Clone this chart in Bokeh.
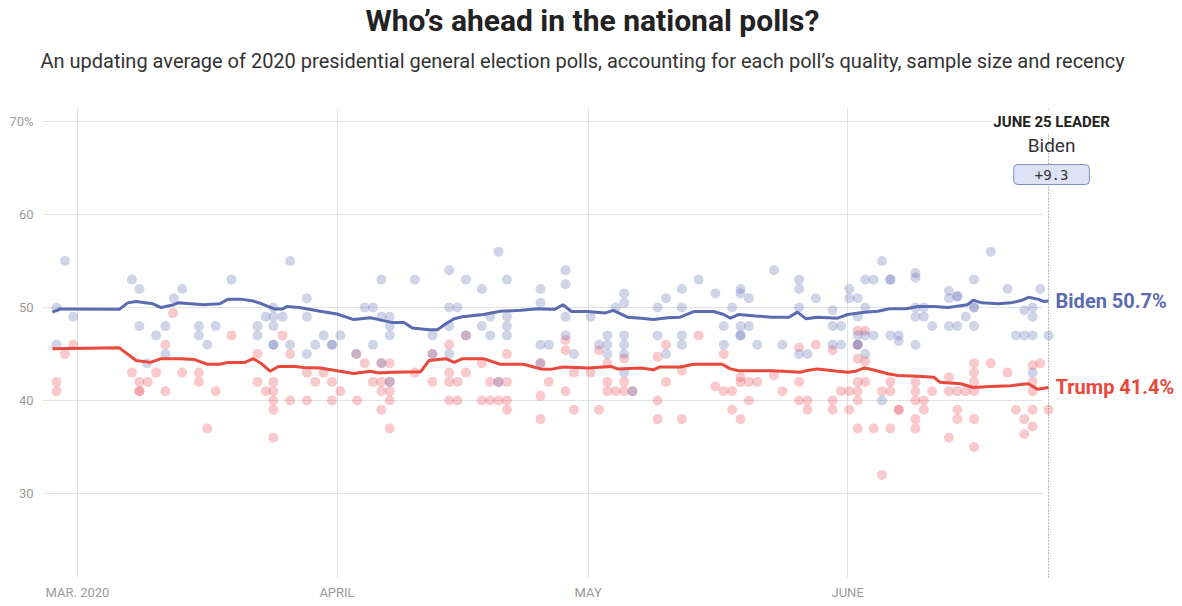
from bokeh.plotting import figure
from bokeh.models import FixedTicker, Span, Label, Title, Range1d
from bokeh.embed import file_html
from bokeh.resources import INLINE

# ---------------- data (x = days since 2020-03-01) ----------------
month_ticks = [0, 31, 61, 92]
month_labels = ["MAR. 2020", "APRIL", "MAY", "JUNE"]
pct_ticks = [30, 40, 50, 60, 70]
pct_labels = ["30", "40", "50", "60", "70%"]

biden_avg_day = [-3, -2, 5, 6, 7, 9, 10, 11.5, 12, 15, 17, 18, 19.5, 21, 22, 23.5, 24.5, 25, 26.5,
                 29, 31, 33, 35, 36, 37.5, 39, 40, 42, 43, 44, 45, 46, 48.5, 50.5, 53, 55, 56.5,
                 57, 58, 59, 61, 63, 64, 65.7, 67.3, 68.8, 70.5, 72, 73.6, 76, 77.2, 78, 79, 81,
                 83, 85, 86, 87, 88.4, 90.8, 92, 94, 95.6, 97, 99, 100.4, 102.3, 104, 105.5, 106.3,
                 107, 108, 110, 111.5, 112.7, 113.6, 114.7, 115.4, 116]
biden_avg = [49.5, 49.85, 49.8, 50.5, 50.65, 50.4, 50.0, 50.3, 50.5, 50.3, 50.4, 50.9, 50.9, 50.7,
             50.4, 49.85, 49.85, 50.1, 50.0, 49.6, 49.3, 48.7, 48.9, 48.7, 48.4, 48.4, 47.8, 47.6,
             47.6, 48.25, 48.8, 49.0, 49.25, 49.6, 49.7, 49.86, 49.8, 49.8, 50.3, 49.57, 49.57,
             49.4, 49.7, 48.96, 48.85, 48.7, 48.9, 48.96, 49.57, 49.57, 49.25, 48.85, 49.25, 49.1,
             48.96, 48.96, 49.5, 48.8, 48.96, 48.85, 49.25, 49.5, 49.6, 49.86, 49.86, 50.1, 50.1,
             50.0, 50.2, 50.3, 50.8, 50.5, 50.4, 50.5, 50.75, 51.1, 50.9, 50.65, 50.7]

trump_avg_day = [-3, 5, 7, 8.7, 10, 12.3, 14, 15.5, 17, 18, 20, 21, 22, 23, 24, 26, 27, 29, 31, 33,
                 35, 36, 37.5, 41, 42, 44, 45, 46, 48.5, 50.5, 53.3, 55.3, 56.5, 58, 61, 63.8, 64.5,
                 67.3, 68.8, 69.5, 72, 73.6, 77, 78, 79, 83, 86.4, 87, 88.4, 90.8, 92, 93, 94, 95,
                 96.8, 98, 100.4, 102.3, 103, 105.5, 107, 109, 111.5, 113.6, 114.7, 116]
trump_avg = [45.56, 45.66, 44.3, 44.1, 44.5, 44.5, 44.4, 43.9, 43.9, 44.1, 44.1, 44.5, 43.95, 43.15,
             43.65, 43.65, 43.55, 43.5, 43.2, 42.9, 43.15, 42.95, 43.05, 43.1, 44.3, 44.5, 44.1,
             44.5, 44.5, 43.9, 43.9, 43.4, 43.35, 43.6, 43.5, 43.65, 43.4, 43.5, 43.3, 43.6, 43.6,
             43.9, 43.9, 43.4, 43.2, 43.2, 43.05, 43.2, 43.4, 43.15, 43.05, 43.15, 43.5, 43.3,
             42.87, 42.7, 42.6, 42.5, 41.97, 41.8, 41.4, 41.5, 41.6, 41.8, 41.2, 41.4]

biden_poll_day = [-1.5, -2.5, -0.5, -2.5, 6.5, 7.4, 7.4, 9.4, 10.5, 10.5, 11.5, 12.5, 14.5, 14.5, 15.5,
                  16.5, 18.4, 21.5, 21.5, 22.5, 23.4, 23.4, 23.4, 23.4, 23.4, 24.5, 25.4, 25.4, 8.3,
                  27.4, 27.4, 27.4, 28.4, 29.4, 30.4, 30.4, 31.4, 33.3, 34.3, 35.3, 35.3, 36.3, 36.3,
                  36.3, 37.3, 37.3, 37.3, 37.3, 40.3, 42.4, 42.4, 44.4, 44.4, 44.4, 44.4, 45.4, 46.4,
                  46.4, 48.3, 48.3, 49.3, 49.3, 50.3, 50.3, 51.3, 51.3, 51.3, 51.3, 55.3, 55.3, 55.3,
                  56.3, 55.3,
                  58.3, 58.3, 58.3, 58.3, 59.3, 61.3, 62.3, 63.3, 63.3, 63.3, 64.3, 65.3, 65.3, 65.3,
                  65.3, 65.3, 65.3, 66.3, 69.3, 70.3, 69.3, 70.3, 72.2, 72.2, 72.2, 72.2, 74.2, 76.2,
                  77.2, 77.2, 78.2, 79.2, 79.2, 79.2, 79.2, 79.2, 80.2, 80.2, 81.2, 83.2, 84.2, 86.2,
                  86.2, 86.2, 86.2,
                  87.2, 88.2, 90.2, 90.2, 91.2, 90.2, 91.2, 92.2, 92.2, 93.2, 93.2, 93.2, 93.2, 93.2,
                  94.1, 94.1, 94.1, 94.1, 95.1, 95.1, 96.1, 96.1, 97.1, 97.1, 97.1, 98.1, 98.1, 100.1,
                  100.1, 100.1, 100.1, 101.1, 101.1, 100.1, 102.1, 104.1, 104.1, 104.1, 105.1, 105.1,
                  105.1, 106.1, 107.1, 107.1, 107.1, 107.1, 109.1, 111.1, 112.1, 113.1, 114.1, 113.1,
                  114.1, 114.1, 114.1, 115, 116]
biden_poll = [55, 50, 49, 46, 53, 52, 48, 47, 48, 45, 51, 52, 48, 47, 46,
              48, 53, 48, 47, 49, 50, 49, 48, 46, 46, 49, 55, 46, 44,
              51, 49, 45, 46, 47, 46, 46, 47, 45, 50, 50, 46, 53, 49,
              44, 49, 48, 47, 42, 53, 47, 45, 54, 50, 48, 45, 50, 53,
              47, 52, 48, 49, 47, 56, 42, 53, 49, 48, 47, 52, 50.5, 46,
              46, 44,
              54, 52.5, 49, 47, 45, 49, 46, 47, 46, 45, 50, 51.5, 50.5, 47,
              46, 45, 43, 41, 50, 51, 47, 45, 52, 50, 47, 46, 53, 51.5,
              48, 46, 50, 52, 51.5, 48, 47, 47, 51, 48, 46, 54, 46, 53,
              52, 50, 45,
              45, 51, 49.7, 48, 48, 46, 46, 52, 51, 51, 49, 47, 46, 46,
              53, 50, 47, 45, 53, 47, 55, 40, 53, 53, 47, 47, 46.4, 53.7,
              53.2, 50, 49, 50, 49, 46, 48, 51.8, 51, 48, 51.2, 51.2,
              48, 49, 53, 50, 50, 48, 56, 52, 47, 47, 47, 49.7,
              50, 49, 43, 52, 47]

trump_poll_day = [-0.5, -1.5, -2.5, -2.5, 11.4, 18.4, 10.5, 6.5, 7.4, 7.4, 7.4, 8.4, 9.4, 10.5, 12.5,
                  14.5, 14.5, 15.5, 16.5, 21.5, 21.5, 22.5, 23.4, 23.4, 23.4, 23.4, 23.4, 24.5, 25.4,
                  25.4,
                  27.4, 27.4, 28.4, 29.4, 30.4, 30.4, 31.4, 33.3, 33.4, 34.3, 35.3, 36.3, 36.3, 36.3,
                  36.3, 37.3, 37.3, 37.3, 37.3, 37.3, 40.3, 42.4, 42.4, 44.4, 44.4, 44.4, 44.4, 45.4,
                  45.4, 46.4, 46.4, 48.3, 48.3, 49.3, 49.3, 50.3, 50.3, 51.3, 51.3, 51.3, 51.3, 55.3,
                  55.3, 55.3, 56.3,
                  58.3, 58.3, 58.3, 59.3, 59.3, 61.3, 62.3, 62.3, 63.3, 63.3, 63.3, 64.3, 65.3, 65.3,
                  65.3, 66.3, 69.3, 69.3, 69.3, 70.3, 70.3, 72.2, 72.2, 74.2, 76.2, 77.2, 77.2, 78.2,
                  78.2, 79.2, 79.2, 79.2, 80.2, 81.2, 80.2, 83.2, 84.2, 86.2, 86.2, 86.2,
                  87.2, 87.2, 88.2, 90.2, 90.2, 90.2, 91.2, 92.2, 92.2, 93.2, 93.2, 93.2, 93.2, 93.2,
                  93.2, 93.2, 94.1, 94.1, 94.1, 95.1, 96.1, 96.1, 97.1, 97.1, 97.1, 98.1, 98.1, 100.1,
                  100.1, 100.1, 100.1, 100.1, 101.1, 101.1, 102.1, 104.1, 104.1, 104.1, 105.1, 105.1,
                  105.1, 106.1, 107.1, 107.1, 107.1, 107.1, 107.1, 107.1, 109.1, 111.1, 112.1, 113.1,
                  113.1, 114.1, 114.1, 114.1, 114.1, 114.1, 115, 116]
trump_poll = [46, 45, 42, 41, 49.4, 47, 46, 43, 42, 41, 41, 42, 43, 41, 43,
              43, 42, 37, 41, 45, 42, 41, 42, 41, 40, 39, 36, 47, 45,
              40,
              43, 40, 42, 43, 42, 40, 41, 45, 40, 44, 42, 44, 42, 41,
              39, 44, 42, 41, 40, 37, 43, 45, 42, 46, 43, 42, 40, 42,
              40, 47, 43, 44, 40, 42, 40, 42, 40, 45, 42, 40, 39, 44,
              40.5, 38, 42,
              46.5, 45.4, 41, 43, 39, 43, 45.4, 39, 44, 42, 41, 41, 44.5, 42,
              41, 41, 44.7, 40, 38, 46, 42, 43.2, 38, 47, 41.5, 45, 41, 41,
              39, 42.5, 42, 38, 42, 42, 40, 42.7, 41, 45.7, 42, 40,
              40, 39, 46, 45.4, 40, 39, 41, 39, 41, 47.5, 44.5, 42, 41, 40,
              37, 46, 47.5, 44.2, 42, 37, 41, 32, 42, 41, 37, 39, 39, 42,
              41, 40, 38, 37, 40, 39, 41, 42.5, 41, 36, 41, 39,
              38, 41, 44, 43, 42, 41, 38, 35, 44, 43, 39, 38,
              36.4, 43.8, 42, 41, 39, 37.2, 44, 39]

title_text = "Who\u2019s ahead in the national polls?"
subtitle_text = ("An updating average of 2020 presidential general election polls, accounting for "
                 "each poll\u2019s quality, sample size and recency")
leader_date = 116
leader_head = "JUNE 25 LEADER"
leader_name = "Biden"
leader_margin = "+9.3"
biden_label = "Biden 50.7%"
trump_label = "Trump 41.4%"
biden_final = 50.7
trump_final = 41.4

# ---------------- styling ----------------
BLUE = "#5a6bb2"
RED = "#e9483b"
FONT = "Roboto"
X0, X1 = -4.18, 132.0

p = figure(width=1182, height=606, output_backend="svg", toolbar_location=None,
           x_range=Range1d(X0, X1), y_range=Range1d(20.86, 71.4),
           min_border_left=42, min_border_right=0, min_border_top=108, min_border_bottom=28)
p.outline_line_color = None
p.border_fill_color = "white"
p.background_fill_color = "white"

# stacked header: title (outermost), subtitle, then a blank spacer next to the frame
p.title.text = title_text
p.title.align = "left"
p.title.offset = 323
p.title.text_font = FONT
p.title.text_font_size = "30px"
p.title.text_font_style = "bold"
p.title.text_color = "#222222"
p.title.standoff = 0
# first added panel sits next to the frame: a blank spacer, then the subtitle above it
p.add_layout(Title(text=" ", align="left", standoff=23, text_font=FONT, text_font_size="2px",
                   text_color="white"), "above")
p.add_layout(Title(text=subtitle_text, align="left", offset=-2, standoff=18, text_font=FONT,
                   text_font_size="20px", text_font_style="normal", text_color="#333333"), "above")

p.xaxis.ticker = FixedTicker(ticks=month_ticks)
p.xaxis.major_label_overrides = dict(zip(month_ticks, month_labels))
p.yaxis.ticker = FixedTicker(ticks=pct_ticks)
p.yaxis.major_label_overrides = dict(zip(pct_ticks, pct_labels))
for ax in (p.xaxis[0], p.yaxis[0]):
    ax.axis_line_color = None
    ax.major_tick_line_color = None
    ax.minor_tick_line_color = None
    ax.major_label_text_color = "#9a9a9a"
    ax.major_label_text_font = FONT
    ax.major_label_text_font_size = "13px"
p.yaxis.major_label_standoff = 3
p.xaxis.major_label_standoff = 0
p.xgrid.ticker = FixedTicker(ticks=month_ticks)
p.xgrid.grid_line_color = "#e2e2e2"
p.ygrid.visible = False
# horizontal grid lines stop just before the leader line
p.segment(x0=[X0] * len(pct_ticks), y0=pct_ticks, x1=[leader_date - 0.7] * len(pct_ticks),
          y1=pct_ticks, line_color="#e2e2e2", line_width=1)

p.scatter(trump_poll_day, trump_poll, size=10, fill_color="#ee5a64", fill_alpha=0.33, line_color=None)
p.scatter(biden_poll_day, biden_poll, size=10, fill_color="#6272b5", fill_alpha=0.3, line_color=None)

p.line(trump_avg_day, trump_avg, line_width=3, line_color=RED)
p.line(biden_avg_day, biden_avg, line_width=3, line_color=BLUE)

p.add_layout(Span(location=leader_date, dimension="height", line_color="#777777",
                  line_dash="1 2", line_width=1))

p.add_layout(Label(x=leader_date, y=biden_final, x_offset=7, text=biden_label, text_baseline="middle",
                   text_font=FONT, text_font_size="20px", text_font_style="bold", text_color=BLUE))
p.add_layout(Label(x=leader_date, y=trump_final, x_offset=7, text=trump_label, text_baseline="middle",
                   text_font=FONT, text_font_size="20px", text_font_style="bold", text_color=RED))

p.add_layout(Label(x=leader_date, y=70, x_offset=3, text=leader_head, text_align="center",
                   text_baseline="middle", text_font=FONT, text_font_size="15px",
                   text_font_style="bold", text_color="#222222", background_fill_color="white",
                   padding=3))
p.add_layout(Label(x=leader_date, y=67.4, x_offset=3, text=leader_name, text_align="center",
                   text_baseline="middle", text_font=FONT, text_font_size="19px",
                   text_color="#333333"))
p.add_layout(Label(x=leader_date, y=64.3, x_offset=3, text=leader_margin, text_align="center",
                   text_baseline="middle", text_font="DejaVu Sans Mono", text_font_size="14px",
                   text_color="#333333", background_fill_color="#dde2f4",
                   border_line_color="#7f8dc8", border_line_width=1, border_radius=4,
                   padding=dict(left=21, right=21, top=5, bottom=5)))

open("out.html", "w").write(file_html(p, INLINE))
